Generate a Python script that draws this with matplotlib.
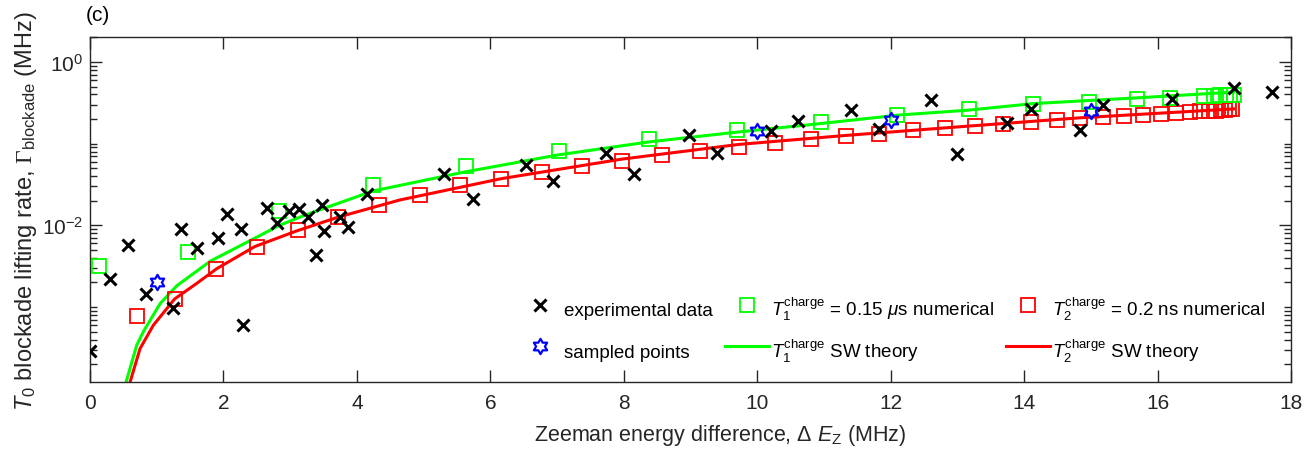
import matplotlib
matplotlib.use('Agg')
import matplotlib.pyplot as plt
import numpy as np
from matplotlib.path import Path
from matplotlib.ticker import LogLocator, NullFormatter

plt.rcParams['font.family'] = ['Liberation Sans', 'DejaVu Sans']
plt.rcParams['mathtext.fontset'] = 'custom'
plt.rcParams['mathtext.rm'] = 'Liberation Serif'
plt.rcParams['mathtext.sf'] = 'Liberation Sans'
plt.rcParams['mathtext.it'] = 'Liberation Sans:italic'
plt.rcParams['mathtext.bf'] = 'Liberation Sans:bold'

# experimental data (black crosses)
exp_x = [0.0, 0.30, 0.57, 0.84, 1.25, 1.36, 1.61, 1.92, 2.05, 2.26, 2.30, 2.65,
         2.80, 2.99, 3.13, 3.27, 3.38, 3.48, 3.51, 3.74, 3.87, 4.15, 5.31, 5.74,
         6.53, 6.94, 7.74, 8.16, 8.98, 9.40, 10.20, 10.61, 11.41, 11.83, 12.60,
         12.99, 13.75, 14.11, 14.84, 15.19, 16.21, 17.14, 17.71]
exp_y = [2.9e-4, 2.2e-3, 5.8e-3, 1.45e-3, 9.8e-4, 9.1e-3, 5.3e-3, 7.0e-3, 0.0139,
         9.1e-3, 6.0e-4, 0.0163, 0.0108, 0.0149, 0.0158, 0.0126, 4.3e-3, 0.0178,
         8.5e-3, 0.0126, 9.5e-3, 0.024, 0.042, 0.021, 0.055, 0.035, 0.076, 0.043,
         0.127, 0.077, 0.141, 0.188, 0.255, 0.153, 0.339, 0.074, 0.18, 0.268,
         0.148, 0.30, 0.355, 0.48, 0.43]

# sampled points (blue hexagrams)
samp_x = [1.0, 10.0, 12.0, 15.0]
samp_y = [2.0e-3, 0.141, 0.196, 0.248]

# T1 numerical (green squares)
t1_x = [0.13, 1.47, 2.84, 4.24, 5.64, 7.03, 8.38, 9.69, 10.95, 12.10, 13.17,
        14.14, 14.97, 15.69, 16.19, 16.69, 16.84, 16.94, 17.02, 17.08, 17.14]
t1_y = [3.2e-3, 4.7e-3, 0.0151, 0.0316, 0.0537, 0.0813, 0.115, 0.148, 0.186,
        0.224, 0.263, 0.302, 0.324, 0.347, 0.363, 0.380, 0.385, 0.389, 0.394,
        0.398, 0.398]

# T2 numerical (red squares)
t2_x = [0.70, 1.28, 1.89, 2.50, 3.12, 3.72, 4.33, 4.95, 5.55, 6.16, 6.78, 7.38,
        7.97, 8.57, 9.15, 9.72, 10.26, 10.81, 11.33, 11.83, 12.34, 12.81, 13.26,
        13.69, 14.10, 14.49, 14.84, 15.19, 15.50, 15.78, 16.05, 16.28, 16.48,
        16.64, 16.77, 16.87, 16.95, 17.01, 17.07, 17.12]
t2_y = [7.7e-4, 1.24e-3, 2.95e-3, 5.4e-3, 8.7e-3, 0.0126, 0.0176, 0.0234, 0.031,
        0.037, 0.045, 0.053, 0.062, 0.072, 0.081, 0.091, 0.103, 0.113, 0.123,
        0.130, 0.146, 0.155, 0.164, 0.174, 0.184, 0.197, 0.207, 0.210, 0.218,
        0.226, 0.230, 0.235, 0.244, 0.248, 0.251, 0.254, 0.257, 0.260, 0.263,
        0.263]

# SW theory curves
sw1_x = [0.51, 0.54, 0.70, 0.80, 1.05, 1.30, 1.80, 2.30, 2.84, 3.24, 4.24,
         5.60, 7.00, 8.38, 9.69, 10.95, 12.13, 13.17, 14.14, 15.69, 17.14]
sw1_y = [1.0e-4, 1.2e-4, 3.4e-4, 5.0e-4, 1.10e-3, 1.82e-3, 3.63e-3, 5.9e-3,
         0.0100, 0.0135, 0.0263, 0.0447, 0.0724, 0.105, 0.138, 0.176, 0.224,
         0.257, 0.309, 0.363, 0.427]
sw2_x = [0.57, 0.60, 0.75, 0.95, 1.27, 1.60, 1.90, 2.47, 3.09, 3.72, 4.64, 6.16,
         7.97, 9.72, 11.33, 13.26, 14.84, 17.14]
sw2_y = [1.0e-4, 1.2e-4, 3.1e-4, 6.0e-4, 1.26e-3, 1.95e-3, 2.95e-3, 5.5e-3,
         8.5e-3, 0.0126, 0.0204, 0.0372, 0.0646, 0.0977, 0.126, 0.166, 0.207,
         0.266]

x_ticks = [0, 2, 4, 6, 8, 10, 12, 14, 16, 18]
y_ticks = [1e-2, 1e0]
y_ticklabels = [r'$\mathsf{10}^{\mathsf{-2}}$', r'$\mathsf{10}^{\mathsf{0}}$']


def main():
    axcol = '#262626'
    fig = plt.figure(figsize=(13.06, 4.56), dpi=100)
    ax = fig.add_axes([0.0689, 0.1594, 0.9196, 0.7566])

    hexagram = Path.unit_regular_star(6, 0.577)

    l1, = ax.plot(sw1_x, sw1_y, '-', color='#00ff00', lw=2.2, zorder=2)
    l2, = ax.plot(sw2_x, sw2_y, '-', color='#ff0000', lw=2.2, zorder=2)
    s2, = ax.plot(t2_x, t2_y, 's', ls='none', mfc='none', mec='#ff0000',
                  ms=9.5, mew=1.3, zorder=3)
    s1, = ax.plot(t1_x, t1_y, 's', ls='none', mfc='none', mec='#00ff00',
                  ms=9.5, mew=1.3, zorder=3)
    ex, = ax.plot(exp_x, exp_y, 'x', ls='none', color='black', ms=8, mew=2.2,
                  zorder=4)
    st, = ax.plot(samp_x, samp_y, ls='none', marker=hexagram, mfc='none',
                  mec='#0000ff', ms=11, mew=1.6, zorder=5)

    ax.set_yscale('log')
    ax.set_xlim(0, 18)
    ax.set_ylim(1.2e-4, 2.0)
    ax.set_xticks(x_ticks)
    ax.set_xticklabels([str(t) for t in x_ticks])
    ax.set_yticks(y_ticks)
    ax.set_yticklabels(y_ticklabels)
    ax.yaxis.set_minor_locator(LogLocator(base=10, subs=np.arange(1, 10), numticks=30))
    ax.yaxis.set_minor_formatter(NullFormatter())

    ax.tick_params(which='both', direction='in', top=True, right=True,
                   colors=axcol, labelsize=15, width=1.0)
    ax.tick_params(which='major', length=8.5)
    ax.tick_params(which='minor', length=5)
    ax.tick_params(axis='x', pad=8)
    ax.tick_params(axis='y', pad=5)
    for sp in ax.spines.values():
        sp.set_color(axcol)
        sp.set_linewidth(1.0)

    ax.set_xlabel(r'Zeeman energy difference, Δ $E_{\mathsf{Z}}$ (MHz)',
                  fontsize=15.5, color=axcol)
    ax.xaxis.set_label_coords(0.525, -0.115)
    ax.set_ylabel(r'$T_{\mathsf{0}}$ blockade lifting rate, '
                  r'$\Gamma_{\mathsf{blockade}}$ (MHz)',
                  fontsize=17, color=axcol, labelpad=2)

    fig.text(0.066, 0.967, '(c)', fontsize=15, color='black', va='center')

    handles = [ex, st, s1, l1, s2, l2]
    labels = ['experimental data', 'sampled points',
              r'$T_{\mathsf{1}}^{\mathsf{charge}}$ = 0.15 $\mu$s numerical',
              r'$T_{\mathsf{1}}^{\mathsf{charge}}$ SW theory',
              r'$T_{\mathsf{2}}^{\mathsf{charge}}$ = 0.2 ns numerical',
              r'$T_{\mathsf{2}}^{\mathsf{charge}}$ SW theory']
    fs = 13.5
    fpx = fs * 100 / 72.0
    ax.legend(handles, labels, ncol=3, loc='lower left',
              bbox_to_anchor=((518 - 90) / 1201.0, 0.05), frameon=False,
              fontsize=fs, handlelength=44 / fpx, handleheight=2.0,
              handletextpad=2 / fpx, columnspacing=12 / fpx,
              labelspacing=0.65, borderpad=0, borderaxespad=0)

    fig.savefig('out.png', dpi=100)


if __name__ == '__main__':
    main()
